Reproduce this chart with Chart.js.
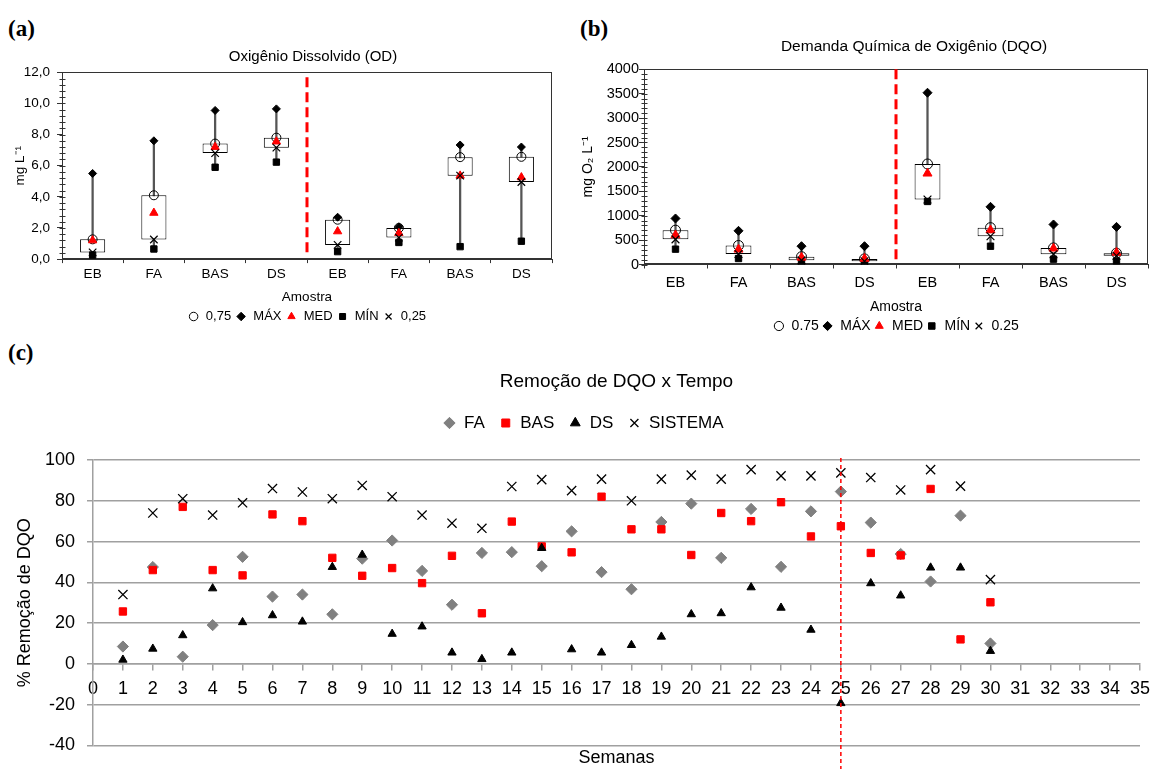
<!DOCTYPE html>
<html><head><meta charset="utf-8">
<script src="https://cdn.jsdelivr.net/npm/chart.js@4.4.1/dist/chart.umd.min.js"></script>
<style>
html,body{margin:0;padding:0;overflow:hidden;background:#fff;width:1153px;height:769px;}
.box{position:absolute;}
.lab{position:absolute;font-family:'Liberation Serif','Times New Roman',serif;font-weight:bold;font-size:23px;line-height:1;color:#000;}
</style></head><body>
<div class="lab" style="left:8px;top:17px">(a)</div>
<div class="lab" style="left:580px;top:17px">(b)</div>
<div class="lab" style="left:8px;top:341px">(c)</div>
<div class="box" style="left:0;top:38px;width:626px;height:295px"><canvas id="ca"></canvas></div>
<div class="box" style="left:575px;top:30px;width:678px;height:313px"><canvas id="cb"></canvas></div>
<div class="box" style="left:0;top:362px;width:1153px;height:407px"><canvas id="cc"></canvas></div>
<script>
// ---------- DATA ----------
const boxCategories = ['EB','FA','BAS','DS','EB','FA','BAS','DS'];
const odLegend = ['0,75','MÁX','MED','MÍN','0,25'];
const dqoLegend = ['0.75','MÁX','MED','MÍN','0.25'];

// (a) Oxigênio Dissolvido (mg/L)
const odMax = [5.5, 7.6, 9.55, 9.65, 2.69, 2.08, 7.33, 7.2];
const odQ75 = [1.27, 4.1, 7.42, 7.8, 2.53, 2.0, 6.55, 6.57];
const odMed = [1.2, 2.97, 7.2, 7.55, 1.78, 1.67, 5.36, 5.25];
const odQ25 = [0.43, 1.26, 6.81, 7.16, 0.91, 1.38, 5.36, 4.95];
const odMin = [0.26, 0.65, 5.9, 6.23, 0.48, 1.07, 0.8, 1.15];

// (b) DQO (mg O2/L)
const dqoMax = [943, 690, 375, 375, 3520, 1182, 820, 771];
const dqoQ75 = [703, 390, 160, 115, 2060, 755, 340, 232];
const dqoMed = [601, 308, 143, 120, 1866, 703, 328, 245];
const dqoQ25 = [515, 215, 85, 65, 1333, 580, 210, 180];
const dqoMin = [314, 123, 34, 20, 1292, 375, 109, 68];

// (c) Remoção de DQO x Tempo (%)
const weeks = [1,2,3,4,5,6,7,8,9,10,11,12,13,14,15,16,17,18,19,20,21,22,23,24,25,26,27,28,29,30];
const remFA  = [8.5, 47.5, 3.5, 19, 52.5, 33, 34, 24.3, 51.6, 60.5, 45.6, 29, 54.4, 54.8, 47.9, 65, 45, 36.6, 69.6, 78.6, 52, 76, 47.6, 74.8, 84.5, 69.3, 53.9, 40.4, 72.7, 10];
const remBAS = [25.7, 46, 77, 46, 43.4, 73.3, 70, 52, 43.2, 47, 39.6, 53, 24.8, 69.8, 57.6, 54.7, 82, 66, 66, 53.4, 74, 70, 79.3, 62.5, 67.5, 54.4, 53.2, 85.8, 12, 30.2];
const remDS  = [2, 7.4, 14, 37, 20.4, 23.8, 20.7, 47.5, 53.5, 14.7, 18.3, 5.5, 2.3, 5.5, 56.8, 7.1, 5.5, 9.2, 13.3, 24.3, 24.8, 37.5, 27.5, 16.7, -19.3, 39.5, 33.5, 47.2, 47.2, 6.3];
const remSIS = [34, 74, 81, 73, 79, 86, 84.3, 81, 87.5, 82, 73, 69, 66.5, 87, 90.4, 85, 90.6, 80, 90.6, 92.6, 90.6, 95.3, 92.2, 92.2, 93.7, 91.4, 85.3, 95.3, 87.2, 41.3];
const remLegend = ['FA','BAS','DS','SISTEMA'];
const dividerWeek = 25;

// ---------- STYLE ----------
Chart.defaults.font.family = "'Liberation Sans', Arial, Helvetica, sans-serif";
Chart.defaults.color = '#000';
Chart.defaults.animation = false;
const AXIS = '#333';

function framePlugin() {
  return { id: 'frame', beforeDatasetsDraw(chart) {
    const a = chart.chartArea, ctx = chart.ctx;
    ctx.save(); ctx.strokeStyle = AXIS; ctx.lineWidth = 1;
    ctx.strokeRect(Math.round(a.left) + 0.5, Math.round(a.top) + 0.5,
                   Math.round(a.right - a.left) - 1, Math.round(a.bottom - a.top) - 1);
    ctx.restore();
  }};
}
function minorTickPlugin(step, max) {
  return { id: 'minorTicks', afterDraw(chart) {
    const s = chart.scales.y, ctx = chart.ctx;
    const x = Math.round(chart.chartArea.left) + 0.5;
    ctx.save(); ctx.strokeStyle = AXIS; ctx.lineWidth = 1; ctx.beginPath();
    const n = Math.round(max / step);
    for (let i = 0; i <= n; i++) {
      const y = Math.round(s.getPixelForValue(i * step)) + 0.5;
      ctx.moveTo(x - 3, y); ctx.lineTo(x + 3, y);
    }
    ctx.stroke(); ctx.restore();
  }};
}
function boxDivider(topOff, botOff) {
  return { id: 'divider', beforeDatasetsDraw(chart) {
    const xs = chart.scales.x, a = chart.chartArea, ctx = chart.ctx;
    const x = (xs.getPixelForValue(3) + xs.getPixelForValue(4)) / 2;
    ctx.save(); ctx.strokeStyle = '#ff0000'; ctx.lineWidth = 3; ctx.setLineDash([10, 5]);
    ctx.beginPath(); ctx.moveTo(x, a.top + topOff); ctx.lineTo(x, a.bottom - botOff); ctx.stroke();
    ctx.restore();
  }};
}

function makeBoxChart(id, d) {
  const boxes = d.q25.map((v, i) => [v, d.q75[i]]);
  const whiskers = d.min.map((v, i) => [v, d.max[i]]);
  const pt = (label, data, style, r, color, fill, bw, order) => ({
    type: 'line', showLine: false, label, data, xAxisID: 'x', yAxisID: 'y',
    pointStyle: style, pointRadius: r, pointHoverRadius: r,
    pointBackgroundColor: fill, pointBorderColor: color, pointBorderWidth: bw,
    backgroundColor: fill, borderColor: color, borderWidth: bw, order
  });
  return new Chart(document.getElementById(id), {
    data: {
      labels: boxCategories,
      datasets: [
        { type: 'bar', label: 'box', data: boxes, xAxisID: 'x', yAxisID: 'y', backgroundColor: '#fff', borderColor: '#000',
          borderWidth: 1, borderSkipped: false, barPercentage: 0.41, categoryPercentage: 1, grouped: false, order: 10 },
        { type: 'bar', label: 'whisker', data: whiskers, xAxisID: 'x', yAxisID: 'y', backgroundColor: '#555',
          borderWidth: 0, barThickness: 1.6, grouped: false, order: 11 },
        pt(d.legend[0], d.q75, 'circle', d.r.c, '#000', 'rgba(255,255,255,0)', 1, 4),
        pt(d.legend[1], d.max, 'rectRot', d.r.d, '#000', '#000', 1, 3),
        pt(d.legend[2], d.med, 'triangle', d.r.t, '#ff0000', '#ff0000', 1, 1),
        pt(d.legend[3], d.min, 'rect', d.r.s, '#000', '#000', 1, 2),
        pt(d.legend[4], d.q25, 'crossRot', d.r.x, '#000', '#000', 1.2, 0)
      ]
    },
    options: {
      responsive: true, maintainAspectRatio: false, events: [],
      layout: { padding: 0 },
      plugins: {
        tooltip: { enabled: false },
        title: { display: true, text: d.title, fullSize: true, color: '#000',
                 font: { size: d.titleFs, weight: 'normal' }, padding: { top: d.titlePt, bottom: d.titlePb } },
        legend: { position: 'bottom', fullSize: false,
          labels: { usePointStyle: true, boxWidth: d.lb.w, boxHeight: d.lb.h, padding: d.lb.p,
                    font: { size: d.lb.fs }, color: '#000',
                    filter: it => it.datasetIndex >= 2,
                    sort: (a, b) => a.datasetIndex - b.datasetIndex } }
      },
      scales: {
        x: { type: 'category', offset: true,
             grid: { offset: true, drawOnChartArea: false, drawTicks: true, tickLength: 4, color: AXIS },
             border: { color: AXIS },
             ticks: { font: { size: d.fs }, padding: d.xPad, maxRotation: 0, autoSkip: false },
             title: { display: true, text: 'Amostra', font: { size: d.axFs }, padding: { top: d.xtPt, bottom: 0 } } },
        y: { type: 'linear', position: 'left', min: 0, max: d.yMax,
             ticks: { stepSize: d.yStep, font: { size: d.fs }, padding: d.yPad, callback: d.fmt },
             grid: { drawOnChartArea: false, drawTicks: true, tickLength: 5, color: AXIS },
             border: { color: AXIS },
             title: { display: true, text: d.yTitle, font: { size: d.axFs }, padding: { top: d.ytPt, bottom: 0 } },
             afterFit(s) { s.width = d.yW; } },
        yR: { type: 'linear', position: 'right', min: 0, max: 1, display: true,
              grid: { display: false, drawTicks: false }, border: { display: false }, ticks: { display: false },
              afterFit(s) { s.width = d.rW; } }
      }
    },
    plugins: [framePlugin(), minorTickPlugin(d.minor, d.yMax), boxDivider(d.divTop, d.divBot)]
  });
}

makeBoxChart('ca', {
  title: 'Oxigênio Dissolvido (OD)', titleFs: 15, titlePt: 9.7, titlePb: 6.6,
  legend: odLegend, max: odMax, q75: odQ75, med: odMed, q25: odQ25, min: odMin,
  yMax: 12, yStep: 2, minor: 0.4, fmt: v => v.toFixed(1).replace('.', ','),
  yTitle: 'mg L⁻¹', fs: 13.5, axFs: 13.5, xPad: 3.5, xtPt: 3.2, yPad: 7, ytPt: 12,
  yW: 62, rW: 74, lb: { w: 11.4, h: 6, p: 4.3, fs: 13 },
  r: { c: 4.5, d: 4, t: 4.8, s: 4.5, x: 5.3 }, divTop: 5, divBot: 2
});

makeBoxChart('cb', {
  title: 'Demanda Química de Oxigênio (DQO)', titleFs: 15.5, titlePt: 7.7, titlePb: 13,
  legend: dqoLegend, max: dqoMax, q75: dqoQ75, med: dqoMed, q25: dqoQ25, min: dqoMin,
  yMax: 4000, yStep: 500, minor: 100, fmt: v => String(v),
  yTitle: 'mg O₂ L⁻¹', fs: 14.5, axFs: 14, xPad: 6.1, xtPt: 1.1, yPad: 0, ytPt: 4.6,
  yW: 69, rW: 105, lb: { w: 11.4, h: 6.5, p: 3, fs: 14 },
  r: { c: 5, d: 4.5, t: 5.2, s: 4.5, x: 5.5 }, divTop: 0, divBot: 2
});

// ---------- (c) ----------
const toPts = arr => weeks.map((w, i) => ({ x: w, y: arr[i] }));
const weekDivider = { id: 'weekDivider', afterDatasetsDraw(chart) {
  const x = chart.scales.x.getPixelForValue(dividerWeek), a = chart.chartArea, ctx = chart.ctx;
  ctx.save(); ctx.strokeStyle = '#ff0000'; ctx.lineWidth = 1.5; ctx.setLineDash([4, 3]);
  ctx.beginPath(); ctx.moveTo(x, a.top - 2); ctx.lineTo(x, a.bottom + 27); ctx.stroke(); ctx.restore();
}};
const GRID = '#a0a0a0';
const noPad = s => { s.paddingLeft = 0; s.paddingRight = 0; };
new Chart(document.getElementById('cc'), {
  type: 'scatter',
  data: {
    datasets: [
      { label: remLegend[0], data: toPts(remFA), pointStyle: 'rectRot', pointRadius: 5.6, pointHoverRadius: 5.6,
        backgroundColor: '#808080', borderColor: '#808080', pointBorderWidth: 1, borderWidth: 1, order: 3, xAxisID: 'x', yAxisID: 'y' },
      { label: remLegend[1], data: toPts(remBAS), pointStyle: 'rect', pointRadius: 5.2, pointHoverRadius: 5.2,
        backgroundColor: '#ff0000', borderColor: '#ff0000', pointBorderWidth: 1, borderWidth: 1, order: 2, xAxisID: 'x', yAxisID: 'y' },
      { label: remLegend[2], data: toPts(remDS), pointStyle: 'triangle', pointRadius: 4.8, pointHoverRadius: 4.8,
        backgroundColor: '#000', borderColor: '#000', pointBorderWidth: 1, borderWidth: 1, order: 1, xAxisID: 'x', yAxisID: 'y' },
      { label: remLegend[3], data: toPts(remSIS), pointStyle: 'crossRot', pointRadius: 6.5, pointHoverRadius: 6.5,
        backgroundColor: '#000', borderColor: '#000', pointBorderWidth: 1.3, borderWidth: 1.3, order: 0, xAxisID: 'x', yAxisID: 'y' }
    ]
  },
  options: {
    responsive: true, maintainAspectRatio: false, events: [],
    layout: { padding: { left: 14, right: 0, top: 0, bottom: 0 } },
    plugins: {
      tooltip: { enabled: false },
      title: { display: true, text: 'Remoção de DQO x Tempo', fullSize: false, color: '#000',
               font: { size: 19, weight: 'normal' }, padding: { top: 8, bottom: 6.7 } },
      legend: { position: 'top', fullSize: true,
        labels: { usePointStyle: true, boxWidth: 12, boxHeight: 8, padding: 15, font: { size: 17 }, color: '#000',
                  sort: (a, b) => a.datasetIndex - b.datasetIndex } }
    },
    scales: {
      x: { type: 'linear', position: { y: 0 }, min: 0, max: 35,
           ticks: { stepSize: 1, autoSkip: false, maxRotation: 0, font: { size: 18 }, padding: 8 },
           grid: { drawOnChartArea: false, drawTicks: true, tickLength: 6, color: GRID, lineWidth: 1.5 },
           border: { color: GRID, width: 1.5 },
           afterFit(s) { s.height = 0; noPad(s); } },
      x2: { type: 'linear', position: 'bottom', min: 0, max: 35, display: true,
            grid: { display: false, drawTicks: false }, border: { display: false }, ticks: { display: false },
            title: { display: true, text: 'Semanas', font: { size: 18 }, padding: { top: 2, bottom: 0 } },
            afterFit(s) { noPad(s); } },
      xTop: { type: 'linear', position: 'top', min: 0, max: 35, display: true,
              grid: { display: false, drawTicks: false }, border: { display: false }, ticks: { display: false },
              afterFit(s) { s.height = 18.5; noPad(s); } },
      y: { type: 'linear', position: 'left', min: -40, max: 100,
           ticks: { stepSize: 20, font: { size: 18 }, padding: 12 },
           grid: { color: GRID, lineWidth: 1.5, drawTicks: true, tickLength: 6 },
           border: { color: GRID, width: 1.5 },
           title: { display: true, text: '% Remoção de DQO', font: { size: 18 }, padding: { top: 0, bottom: 0 } },
           afterFit(s) { s.width = 79; } },
      yR: { type: 'linear', position: 'right', min: 0, max: 1, display: true,
            grid: { display: false, drawTicks: false }, border: { display: false }, ticks: { display: false },
            afterFit(s) { s.width = 13; } }
    }
  },
  plugins: [weekDivider]
});
</script>
</body></html>
